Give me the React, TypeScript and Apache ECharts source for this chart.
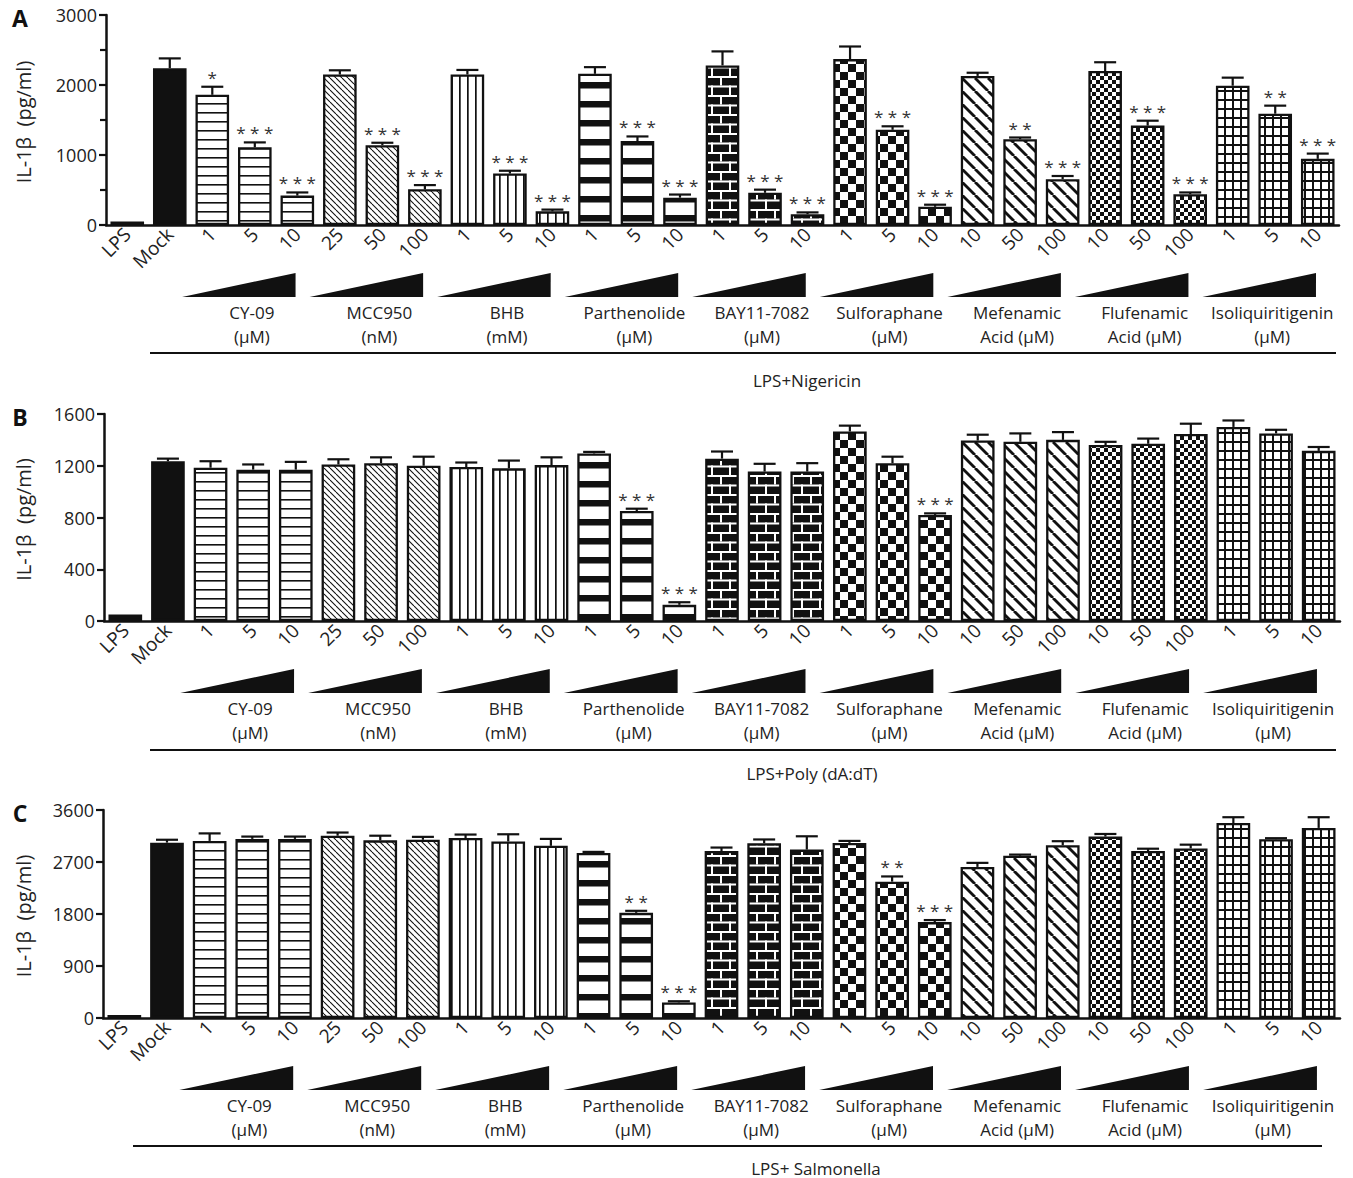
import React, { useEffect, useRef } from 'react';
import * as echarts from 'echarts';

const FONT = '"Open Sans", "Noto Sans", sans-serif';
const INK = '#111';
const TXT = '#222';

// ---------- data ----------
const categories = ['LPS', 'Mock', '1', '5', '10', '25', '50', '100', '1', '5', '10', '1', '5', '10', '1', '5', '10', '1', '5', '10', '10', '50', '100', '10', '50', '100', '1', '5', '10'];
const groupNames = ['CY-09', 'MCC950', 'BHB', 'Parthenolide', 'BAY11-7082', 'Sulforaphane', 'Mefenamic', 'Flufenamic', 'Isoliquiritigenin'];
const groupUnits = ['(μM)', '(nM)', '(mM)', '(μM)', '(μM)', '(μM)', 'Acid (μM)', 'Acid (μM)', '(μM)'];
const groupStarts = [2, 5, 8, 11, 14, 17, 20, 23, 26];
const patternKinds = ['solid', 'solid', 'hline', 'hline', 'hline', 'fineDiag', 'fineDiag', 'fineDiag', 'vline', 'vline', 'vline', 'thickH', 'thickH', 'thickH', 'brick', 'brick', 'brick', 'bigCheck', 'bigCheck', 'bigCheck', 'thickDiag', 'thickDiag', 'thickDiag', 'smallCheck', 'smallCheck', 'smallCheck', 'grid', 'grid', 'grid'];

// Panel A: LPS+Nigericin
const nigericinValues = [50, 2240, 1860, 1110, 420, 2150, 1140, 510, 2150, 735, 195, 2160, 1200, 390, 2280, 460, 155, 2370, 1360, 260, 2130, 1225, 655, 2200, 1420, 440, 1990, 1590, 945];
const nigericinErrors = [0, 140, 115, 70, 45, 60, 35, 60, 65, 40, 25, 95, 65, 45, 200, 45, 25, 180, 50, 30, 45, 25, 45, 125, 70, 25, 115, 115, 75];
const nigericinSig = ['', '', '*', '***', '***', '', '***', '***', '', '***', '***', '', '***', '***', '', '***', '***', '', '***', '***', '', '**', '***', '', '***', '***', '', '**', '***'];
const nigericinTicks = [0, 1000, 2000, 3000];

// Panel B: LPS+Poly (dA:dT)
const polyValues = [50, 1235, 1185, 1170, 1170, 1210, 1220, 1200, 1190, 1180, 1205, 1295, 850, 125, 1255, 1155, 1155, 1465, 1220, 820, 1395, 1385, 1400, 1360, 1370, 1445, 1500, 1450, 1315];
const polyErrors = [0, 20, 50, 40, 60, 40, 45, 70, 35, 60, 60, 12, 18, 20, 55, 60, 65, 45, 50, 12, 45, 65, 60, 25, 40, 80, 50, 28, 30];
const polySig = ['', '', '', '', '', '', '', '', '', '', '', '', '***', '***', '', '', '', '', '', '***', '', '', '', '', '', '', '', '', ''];
const polyTicks = [0, 400, 800, 1200, 1600];

// Panel C: LPS+ Salmonella
const salmonellaValues = [50, 3035, 3065, 3100, 3100, 3155, 3075, 3085, 3115, 3055, 2980, 2855, 1820, 270, 2890, 3025, 2915, 3030, 2360, 1660, 2615, 2810, 2990, 3140, 2890, 2935, 3375, 3095, 3290];
const salmonellaErrors = [0, 50, 130, 40, 40, 55, 80, 50, 60, 125, 120, 20, 35, 20, 60, 65, 230, 35, 90, 35, 70, 18, 70, 45, 40, 65, 100, 17, 185];
const salmonellaSig = ['', '', '', '', '', '', '', '', '', '', '', '', '**', '***', '', '', '', '', '**', '***', '', '', '', '', '', '', '', '', ''];
const salmonellaTicks = [0, 900, 1800, 2700, 3600];

const panelTitles = ['LPS+Nigericin', 'LPS+Poly (dA:dT)', 'LPS+ Salmonella'];
const panelLetters = ['A', 'B', 'C'];

// ---------- patterns ----------
function makePattern(w: number, h: number, draw: (ctx: CanvasRenderingContext2D) => void, bg = '#fff') {
  const c = document.createElement('canvas');
  c.width = w;
  c.height = h;
  const ctx = c.getContext('2d') as CanvasRenderingContext2D;
  ctx.fillStyle = bg;
  ctx.fillRect(0, 0, w, h);
  ctx.fillStyle = INK;
  ctx.strokeStyle = INK;
  draw(ctx);
  return { image: c.toDataURL(), repeat: 'repeat', imageWidth: w, imageHeight: h };
}

function diag(ctx: CanvasRenderingContext2D, s: number, lw: number) {
  ctx.lineWidth = lw;
  for (let k = -1; k <= 1; k++) {
    ctx.beginPath();
    ctx.moveTo(k * s, 0);
    ctx.lineTo(k * s + s, s);
    ctx.stroke();
  }
}

function buildPatterns(): Record<string, any> {
  return {
    solid: INK,
    hline: makePattern(10, 9, (ctx) => ctx.fillRect(0, 4, 10, 1.6)),
    fineDiag: makePattern(6, 6, (ctx) => diag(ctx, 6, 1.1)),
    vline: makePattern(8, 4, (ctx) => ctx.fillRect(3, 0, 1.7, 4)),
    thickH: makePattern(4, 19, (ctx) => ctx.fillRect(0, 6, 4, 6.5)),
    brick: makePattern(18, 19, (ctx) => {
      ctx.fillRect(0, 0, 18, 19);
      ctx.fillStyle = '#fff';
      ctx.fillRect(0, 0, 18, 2);
      ctx.fillRect(0, 9.5, 18, 2);
      ctx.fillRect(0, 0, 2, 9.5);
      ctx.fillRect(9, 9.5, 2, 9.5);
    }),
    bigCheck: makePattern(16, 16, (ctx) => {
      ctx.fillRect(0, 0, 8, 8);
      ctx.fillRect(8, 8, 8, 8);
    }),
    thickDiag: makePattern(13, 13, (ctx) => diag(ctx, 13, 2.8)),
    smallCheck: makePattern(8, 8, (ctx) => {
      ctx.fillRect(0, 0, 4, 4);
      ctx.fillRect(4, 4, 4, 4);
    }),
    grid: makePattern(8, 9, (ctx) => {
      ctx.fillRect(0, 0, 2, 9);
      ctx.fillRect(0, 0, 8, 2);
    }),
  };
}

// ---------- layout ----------
const panels = [
  { values: nigericinValues, errors: nigericinErrors, sig: nigericinSig, ticks: nigericinTicks, minor: true, grid: { left: 106, top: 15, width: 1233, height: 210 }, lineY: 353, lineX: [150, 1336], titleX: 807, titleY: 380 },
  { values: polyValues, errors: polyErrors, sig: polySig, ticks: polyTicks, minor: false, grid: { left: 104, top: 414, width: 1236, height: 207 }, lineY: 750, lineX: [150, 1336], titleX: 812, titleY: 773 },
  { values: salmonellaValues, errors: salmonellaErrors, sig: salmonellaSig, ticks: salmonellaTicks, minor: false, grid: { left: 103, top: 810, width: 1237, height: 208 }, lineY: 1146, lineX: [133, 1322], titleX: 816, titleY: 1168 },
];

function buildOption(patterns: Record<string, any>) {
  const axisLine = { show: true, lineStyle: { color: INK, width: 2.5 } };
  const tickStyle = { color: INK, width: 2.2 };
  const series: any[] = [];
  const graphic: any[] = [];

  panels.forEach((p, k) => {
    series.push({
      type: 'bar',
      xAxisIndex: k,
      yAxisIndex: k,
      barWidth: '79%',
      data: p.values.map((v, i) => ({
        value: v,
        itemStyle: { color: patterns[patternKinds[i]], borderColor: INK, borderWidth: 2.3 },
      })),
      z: 2,
    });
    series.push({
      type: 'custom',
      xAxisIndex: k,
      yAxisIndex: k,
      clip: false,
      z: 3,
      data: p.values.map((v, i) => [i, v + p.errors[i]]),
      renderItem: (params: any, api: any) => {
        const i = params.dataIndex;
        const base = api.coord([i, p.values[i]]);
        const top = api.coord([i, p.values[i] + p.errors[i]]);
        const children: any[] = [];
        if (p.errors[i] > 0) {
          children.push({ type: 'line', shape: { x1: base[0], y1: base[1], x2: base[0], y2: top[1] }, style: { stroke: INK, lineWidth: 2.2 } });
          children.push({ type: 'line', shape: { x1: base[0] - 11, y1: top[1], x2: base[0] + 11, y2: top[1] }, style: { stroke: INK, lineWidth: 2.2 } });
        }
        if (p.sig[i]) {
          children.push({
            type: 'text',
            style: { text: p.sig[i].split('').join(' '), x: base[0], y: top[1] - 1, align: 'center', verticalAlign: 'bottom', fontSize: 17, fontFamily: FONT, fill: '#333' },
          });
        }
        return { type: 'group', children };
      },
    });
    series.push({
      type: 'custom',
      xAxisIndex: k,
      yAxisIndex: k,
      clip: false,
      silent: true,
      z: 3,
      data: groupStarts.map((s, gi) => [s, gi]),
      renderItem: (params: any, api: any) => {
        const gi = params.dataIndex;
        const s = groupStarts[gi];
        const p0 = api.coord([s, 0]);
        const p2 = api.coord([s + 2, 0]);
        const band = api.size([1, 0])[0];
        const left = p0[0] - band / 2 - 9;
        const right = left + band * 2.67;
        const y0 = p0[1];
        const cx = (p0[0] + p2[0]) / 2 - 3;
        return {
          type: 'group',
          children: [
            { type: 'polygon', shape: { points: [[left, y0 + 72], [right, y0 + 72], [right, y0 + 48]] }, style: { fill: INK } },
            { type: 'text', style: { text: groupNames[gi], x: cx, y: y0 + 87, align: 'center', verticalAlign: 'middle', fontSize: 17, fontFamily: FONT, fill: TXT } },
            { type: 'text', style: { text: groupUnits[gi], x: cx, y: y0 + 111, align: 'center', verticalAlign: 'middle', fontSize: 17, fontFamily: FONT, fill: TXT } },
          ],
        };
      },
    });

    const midY = p.grid.top + p.grid.height / 2 + 2;
    graphic.push({ type: 'text', x: 20, y: p.grid.top + 3, style: { text: panelLetters[k], align: 'center', verticalAlign: 'middle', fontSize: 23, fontWeight: 'bold', fontFamily: FONT, fill: INK } });
    graphic.push({ type: 'text', x: 23, y: midY, rotation: Math.PI / 2, style: { text: 'IL-1β  (pg/ml)', align: 'center', verticalAlign: 'middle', fontSize: 20, fontFamily: FONT, fill: TXT } });
    graphic.push({ type: 'line', shape: { x1: p.lineX[0], y1: p.lineY, x2: p.lineX[1], y2: p.lineY }, style: { stroke: INK, lineWidth: 2 } });
    graphic.push({ type: 'text', x: p.titleX, y: p.titleY, style: { text: panelTitles[k], align: 'center', verticalAlign: 'middle', fontSize: 17, fontFamily: FONT, fill: TXT } });
  });

  return {
    animation: false,
    backgroundColor: '#fff',
    grid: panels.map((p) => ({ ...p.grid, containLabel: false })),
    xAxis: panels.map((p, k) => ({
      type: 'category',
      gridIndex: k,
      data: categories,
      axisLine,
      axisTick: { alignWithLabel: true, length: 7, lineStyle: tickStyle },
      axisLabel: { rotate: 45, margin: 6, interval: 0, fontSize: 19, fontFamily: FONT, color: TXT },
      splitLine: { show: false },
    })),
    yAxis: panels.map((p, k) => ({
      type: 'value',
      gridIndex: k,
      min: p.ticks[0],
      max: p.ticks[p.ticks.length - 1],
      interval: p.ticks[1] - p.ticks[0],
      axisLine,
      axisTick: { show: true, length: 7, lineStyle: tickStyle },
      minorTick: { show: p.minor, splitNumber: 2, length: 6, lineStyle: tickStyle },
      splitLine: { show: false },
      minorSplitLine: { show: false },
      axisLabel: { margin: 9, fontSize: 18, fontFamily: FONT, color: TXT, formatter: (v: number) => String(v) },
    })),
    series,
    graphic,
  };
}

export default function App() {
  const ref = useRef<HTMLDivElement>(null);
  useEffect(() => {
    if (!ref.current) return;
    const chart = echarts.init(ref.current, undefined, { renderer: 'svg' });
    chart.setOption(buildOption(buildPatterns()) as any);
    return () => chart.dispose();
  }, []);
  return <div ref={ref} style={{ position: 'absolute', left: 0, top: 0, width: 1353, height: 1178, background: '#fff' }} />;
}
